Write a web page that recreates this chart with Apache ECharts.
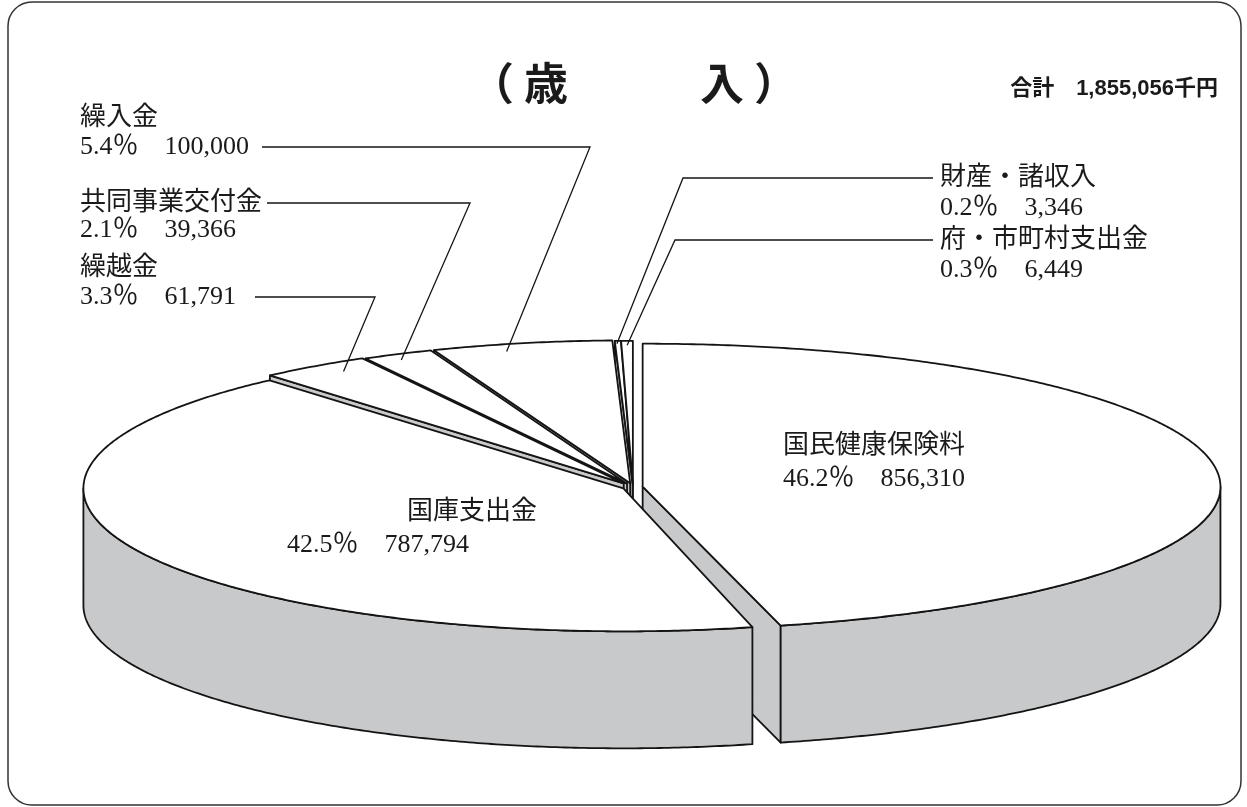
<!DOCTYPE html>
<html><head><meta charset="utf-8">
<script src="https://cdn.jsdelivr.net/npm/echarts@6/dist/echarts.min.js"></script>
<style>html,body{margin:0;padding:0;background:#fff}#main{width:1247px;height:807px}</style>
</head><body><div id="main"></div>
<script>
// ---- data ----
const categories = ['国民健康保険料', '国庫支出金', '繰越金', '共同事業交付金', '繰入金', '財産・諸収入', '府・市町村支出金'];
const values = [856310, 787794, 61791, 39366, 100000, 3346, 6449];
const titleText = '（ 歳　　　入 ）';
const totalText = '合計　1,855,056千円';

// ---- layout / style (not data) ----
const explode = [0.018, 0.02, 0.03, 0.026, 0.026, 0.022, 0.022];
const widthScale = [1.07, 1, 1, 1, 1, 1, 1];
const labelLayout = [
  {nx: 783, ny: 446, vx: 783, vy: 479},
  {nx: 407, ny: 512, vx: 287, vy: 545},
  {nx: 80, ny: 268, vx: 80, vy: 297, lineY: 297, x1: 255, elbowX: 375, at: 0.62, r: 0.94},
  {nx: 80, ny: 203, vx: 80, vy: 230, lineY: 203, x1: 267, elbowX: 470, at: 0.41, r: 0.96},
  {nx: 80, ny: 118, vx: 80, vy: 147, lineY: 147, x1: 262, elbowX: 590, at: 0.38, r: 0.95},
  {nx: 940, ny: 178, vx: 940, vy: 208, lineY: 178, x1: 933, elbowX: 683, at: 0.3, r: 0.98},
  {nx: 940, ny: 240, vx: 940, vy: 270, lineY: 240, x1: 933, elbowX: 675, at: 0.5, r: 0.97}
];
const DEPTH = 117;
const GRAY = '#c8c9cb';
const STROKE = '#141414';
const LABEL_FONT = "26px 'Liberation Serif', 'Noto Sans CJK JP'";

const total = values.reduce((a, b) => a + b, 0);
let acc = 0;
const slices = values.map(v => {
  const s = acc / total * Math.PI * 2; acc += v;
  const e = acc / total * Math.PI * 2;
  return {s, e, m: (s + e) / 2};
});

function renderItem(params, api) {
  const i = params.dataIndex;
  const sl = slices[i];
  const ex = explode[i];
  const sx = widthScale[i];
  const ox = ex * Math.sin(sl.m), oy = ex * Math.cos(sl.m);
  const P = (t, r) => api.coord([ox + r * sx * Math.sin(t), oy + r * Math.cos(t)]);
  const apex = P(0, 0);
  const arc = (t1, t2) => {
    const n = Math.max(2, Math.ceil((t2 - t1) / (Math.PI / 360)));
    const pts = [];
    for (let k = 0; k <= n; k++) pts.push(P(t1 + (t2 - t1) * k / n, 1));
    return pts;
  };
  const down = p => [p[0], p[1] + DEPTH];
  const lineStyle = {stroke: STROKE, lineWidth: 1.8, lineJoin: 'round'};
  const children = [];
  // top face
  children.push({type: 'polygon', shape: {points: [apex].concat(arc(sl.s, sl.e))},
    style: Object.assign({fill: '#fff'}, lineStyle), z2: 300});
  // outer wall (front half only)
  const w1 = Math.max(sl.s, Math.PI / 2), w2 = Math.min(sl.e, Math.PI * 1.5);
  if (w2 > w1) {
    const top = arc(w1, w2);
    const bot = top.map(down).reverse();
    children.push({type: 'polygon', shape: {points: top.concat(bot)},
      style: Object.assign({fill: GRAY}, lineStyle), z2: 200});
  }
  // radial faces facing the viewer
  const face = t => {
    const rim = P(t, 1);
    children.push({type: 'polygon', shape: {points: [apex, rim, down(rim), down(apex)]},
      style: Object.assign({fill: GRAY}, lineStyle), z2: 100 + rim[1] / 10});
  };
  if (Math.sin(sl.s) < -1e-6) face(sl.s);
  if (Math.sin(sl.e) > 1e-6) face(sl.e);
  // labels
  const L = labelLayout[i];
  const pct = (values[i] / total * 100).toFixed(1);
  const valText = pct + '％　' + values[i].toLocaleString('en-US');
  children.push({type: 'text', x: L.nx, y: L.ny, z2: 400,
    style: {text: categories[i], font: LABEL_FONT, fill: '#1a1a1a', align: 'left', verticalAlign: 'middle'}});
  children.push({type: 'text', x: L.vx, y: L.vy, z2: 400,
    style: {text: valText, font: LABEL_FONT, fill: '#1a1a1a', align: 'left', verticalAlign: 'middle'}});
  if (L.lineY !== undefined) {
    const anchor = P(sl.s + (sl.e - sl.s) * L.at, L.r);
    children.push({type: 'polyline', z2: 400,
      shape: {points: [[L.x1, L.lineY], [L.elbowX, L.lineY], anchor]},
      style: {stroke: STROKE, lineWidth: 1.3, fill: null}});
  }
  return {type: 'group', children};
}

const chart = echarts.init(document.getElementById('main'), null, {renderer: 'canvas'});
chart.setOption({
  animation: false,
  backgroundColor: '#fff',
  title: [
    {text: titleText, left: 629, top: 78, textAlign: 'center', textVerticalAlign: 'middle',
     textStyle: {fontSize: 44, fontWeight: 'bold', color: '#1a1a1a', fontFamily: "'Noto Sans CJK JP'"}},
    {text: totalText, left: 1213, top: 84, textAlign: 'right', textVerticalAlign: 'middle',
     textStyle: {fontSize: 22, fontWeight: 'bold', color: '#1a1a1a', fontFamily: "'Liberation Sans', 'Noto Sans CJK JP'"}}
  ],
  graphic: [{type: 'rect', shape: {x: 8, y: 2, width: 1233, height: 803, r: 24},
    style: {fill: 'none', stroke: '#333', lineWidth: 1.5}, silent: true, z: -1}],
  grid: {left: 93, width: 1080, top: 344, height: 286},
  xAxis: {type: 'value', min: -1, max: 1, show: false},
  yAxis: {type: 'value', min: -1, max: 1, show: false},
  series: [{
    type: 'custom',
    coordinateSystem: 'cartesian2d',
    clip: false,
    renderItem,
    data: values.map((v, i) => ({name: categories[i], value: [0, 0, v]})),
    encode: {x: 0, y: 1}
  }]
});
</script>
</body></html>
